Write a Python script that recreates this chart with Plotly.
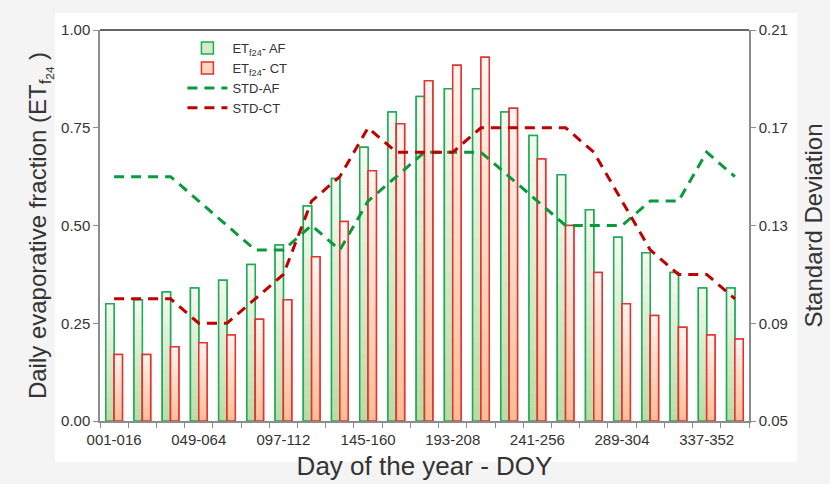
import plotly.graph_objects as go

periods = ["001-016", "017-032", "033-048", "049-064", "065-080", "081-096",
           "097-112", "113-128", "129-144", "145-160", "161-176", "177-192",
           "193-208", "209-224", "225-240", "241-256", "257-272", "273-288",
           "289-304", "305-320", "321-336", "337-352", "353-365"]
label_step = 3

et_af = [0.30, 0.31, 0.33, 0.34, 0.36, 0.40, 0.45, 0.55, 0.62, 0.70, 0.79, 0.83,
         0.85, 0.85, 0.79, 0.73, 0.63, 0.54, 0.47, 0.43, 0.38, 0.34, 0.34]
et_ct = [0.17, 0.17, 0.19, 0.20, 0.22, 0.26, 0.31, 0.42, 0.51, 0.64, 0.76, 0.87,
         0.91, 0.93, 0.80, 0.67, 0.50, 0.38, 0.30, 0.27, 0.24, 0.22, 0.21]
std_af = [0.15, 0.15, 0.15, 0.14, 0.13, 0.12, 0.12, 0.13, 0.12, 0.14, 0.15, 0.16,
          0.16, 0.16, 0.15, 0.14, 0.13, 0.13, 0.13, 0.14, 0.14, 0.16, 0.15]
std_ct = [0.10, 0.10, 0.10, 0.09, 0.09, 0.10, 0.11, 0.14, 0.15, 0.17, 0.16, 0.16,
          0.16, 0.17, 0.17, 0.17, 0.17, 0.16, 0.14, 0.12, 0.11, 0.11, 0.10]

# position index of each period on the x axis
xpos = list(range(len(periods)))

FONT = "Liberation Sans, Arial, sans-serif"
TXT = "#333333"
AXC = "#8c8c8c"
BW = 0.295
NB = 20

fig = go.Figure()


def mix(c0, c1, t):
    return "rgb(%d,%d,%d)" % tuple(round(a + (b - a) * t) for a, b in zip(c0, c1))


def gradient_bars(values, name, offset, line_col, top_col, bot_col, legend_fill):
    fig.add_trace(go.Bar(x=xpos, y=values, name=name, offset=offset, width=BW,
                         marker=dict(color=legend_fill, line=dict(color=line_col, width=1.5)),
                         showlegend=True, hoverinfo="skip"))
    for k in range(NB):
        base = [v * k / NB for v in values]
        h = [v / NB for v in values]
        col = mix(bot_col, top_col, (k + 0.5) / NB)
        fig.add_trace(go.Bar(x=xpos, y=h, base=base, offset=offset, width=BW,
                             marker=dict(color=col, line=dict(width=0)),
                             showlegend=False, hoverinfo="skip"))
    fig.add_trace(go.Bar(x=xpos, y=values, offset=offset, width=BW,
                         marker=dict(color="rgba(0,0,0,0)", line=dict(color=line_col, width=1.5)),
                         showlegend=False, customdata=periods,
                         hovertemplate="%{customdata}: %{y}<extra></extra>"))


gradient_bars(et_af, "ET<sub>f24</sub>- AF", -BW, "#1faa55",
              (246, 250, 243), (188, 219, 163), "rgb(214,234,200)")
gradient_bars(et_ct, "ET<sub>f24</sub>- CT", 0.0, "#e23232",
              (255, 246, 242), (255, 188, 148), "rgb(255,214,190)")

fig.add_trace(go.Scatter(x=xpos, y=std_af, name="STD-AF", yaxis="y2", mode="lines",
                         customdata=periods,
                         line=dict(color="#0a9a3c", width=3, dash="10px,7px")))
fig.add_trace(go.Scatter(x=xpos, y=std_ct, name="STD-CT", yaxis="y2", mode="lines",
                         customdata=periods,
                         line=dict(color="#c00000", width=3, dash="10px,7px")))

fig.update_layout(
    width=830, height=484,
    margin=dict(l=100, r=81, t=30, b=63),
    paper_bgcolor="#f4f4f4",
    plot_bgcolor="rgba(0,0,0,0)",
    barmode="overlay",
    font=dict(family=FONT, color=TXT, size=15),
    showlegend=True,
    legend=dict(x=0.127, y=0.992, xanchor="left", yanchor="top",
                bgcolor="rgba(0,0,0,0)", font=dict(size=13, color=TXT),
                tracegroupgap=0, itemwidth=40),
    xaxis=dict(range=[-0.5, len(periods) - 0.5], automargin=False,
               tickmode="array", tickvals=xpos[::label_step], ticktext=periods[::label_step],
               tickangle=0, ticks="", ticklabelstandoff=4,
               minor=dict(ticks="outside", tick0=-0.5, dtick=1, ticklen=5, tickcolor=AXC,
                          showgrid=False),
               showline=True, linecolor=AXC, linewidth=1.5, showgrid=False, zeroline=False,
               tickfont=dict(size=15, color=TXT),
               title=dict(text="Day of the year - DOY", font=dict(size=26, color=TXT), standoff=10)),
    yaxis=dict(range=[0, 1], tickvals=[0, 0.25, 0.5, 0.75, 1.0], tickformat=".2f",
               automargin=False,
               ticks="outside", ticklen=5, tickcolor=AXC, showline=True, linecolor=AXC,
               linewidth=1.5, showgrid=False, zeroline=False,
               tickfont=dict(size=15, color=TXT),
               title=dict(text="Daily evaporative fraction (ET<sub>f<sub>24</sub></sub> )",
                          font=dict(size=24, color=TXT), standoff=8)),
    yaxis2=dict(overlaying="y", side="right", range=[0.05, 0.21],
                tickvals=[0.05, 0.09, 0.13, 0.17, 0.21], tickformat=".2f",
                automargin=False,
                ticks="outside", ticklen=5, tickcolor=AXC, showline=True, linecolor=AXC,
                linewidth=1.5, showgrid=False, zeroline=False,
                tickfont=dict(size=15, color=TXT),
                title=dict(text="Standard Deviation", font=dict(size=24, color=TXT), standoff=18)),
    shapes=[
        dict(type="rect", xref="paper", yref="paper", x0=-0.0693, x1=1.074,
             y0=-0.105, y1=1.0435, fillcolor="white", line=dict(width=0), layer="below"),
        dict(type="line", xref="paper", yref="paper", x0=0, x1=1, y0=1, y1=1,
             line=dict(color="#333333", width=1.5)),
    ],
)

fig.write_html("out.html")
